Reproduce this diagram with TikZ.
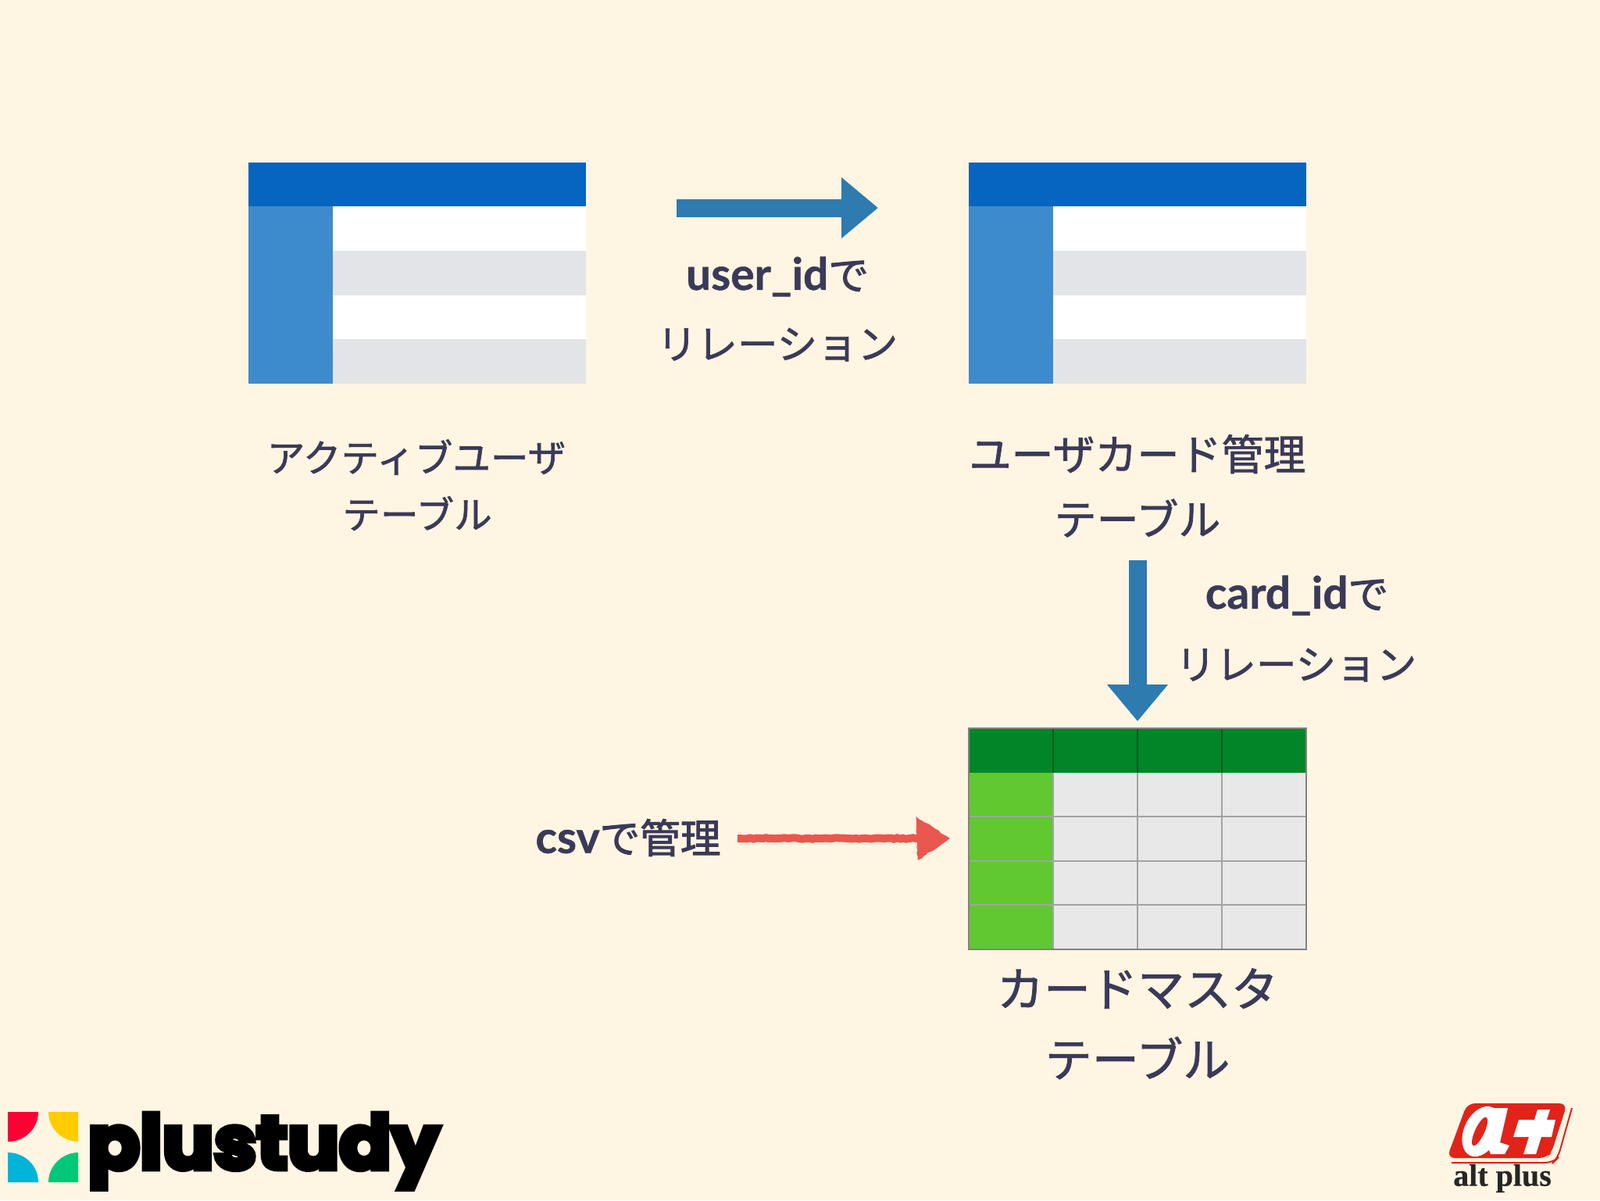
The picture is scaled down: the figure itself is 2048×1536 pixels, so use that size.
\documentclass[tikz,border=0pt]{standalone}
\usepackage{fontspec}
\usepackage{tikz}
\usetikzlibrary{arrows.meta,decorations.pathmorphing}
\setmainfont{Noto Sans CJK JP}[FakeBold=1.3]
\newfontfamily\boldjp{Noto Sans CJK JP}[FakeBold=2]
\newfontfamily\latfont{Lato}[FakeBold=0.8]
\newfontfamily\logofont{Poppins}[FakeBold=7]
\newfontfamily\altfont{Liberation Serif}[FakeBold=0.4]
\newcommand{\lat}[1]{{\latfont\bfseries\fontsize{28.5}{28.5}\selectfont #1}}
\definecolor{bgcream}{HTML}{FFF5E3}
\definecolor{headblue}{HTML}{0565BF}
\definecolor{sideblue}{HTML}{3D8BCD}
\definecolor{rowgray}{HTML}{E3E4E8}
\definecolor{headgreen}{HTML}{008528}
\definecolor{sidegreen}{HTML}{61C82F}
\definecolor{cellgray}{HTML}{E8E8E8}
\definecolor{gridgray}{HTML}{A3A3A3}
\definecolor{arrowblue}{HTML}{2E7BB0}
\definecolor{chalkred}{HTML}{E9574F}
\definecolor{inkblue}{HTML}{3A3A58}
\definecolor{altred}{HTML}{E2231A}
\definecolor{logored}{HTML}{FF0033}
\definecolor{logoyellow}{HTML}{FFCC00}
\definecolor{logoblue}{HTML}{00B4D8}
\definecolor{logogreen}{HTML}{00C878}
\tikzset{
    label24/.style={text=inkblue,font=\fontsize{24.3}{24.3}\selectfont,inner sep=0pt},
    label27/.style={text=inkblue,font=\fontsize{27}{27}\selectfont,inner sep=0pt},
    label30/.style={text=inkblue,font=\fontsize{30}{30}\selectfont,inner sep=0pt},
    relation/.style={text=inkblue,font=\fontsize{25.8}{25.8}\selectfont,inner sep=0pt},
    blockarrow/.style={draw=arrowblue,line width=11.5pt,-{Triangle[length=23.5pt,width=37.5pt]}},
    chalkarrow/.style={draw=chalkred,line width=5pt,decorate,decoration={random steps,segment length=2pt,amplitude=.4pt}},
    chalkhead/.style={fill=chalkred,draw=chalkred,line width=.5pt,decorate,decoration={random steps,segment length=2pt,amplitude=.5pt}}
}
\begin{document}
\begin{tikzpicture}[x=0.5pt,y=-0.5pt]
    \fill[bgcream] (0,0) rectangle (2048,1536);
    \useasboundingbox (0,0) rectangle (2048,1536);

    % blue tables
    \foreach \tx in {318,1240} {
        \fill[white] (\tx+108,264) rectangle (\tx+432,321);
        \fill[rowgray] (\tx+108,321) rectangle (\tx+432,378);
        \fill[white] (\tx+108,378) rectangle (\tx+432,434);
        \fill[rowgray] (\tx+108,434) rectangle (\tx+432,491);
        \fill[sideblue] (\tx,264) rectangle (\tx+108,491);
        \fill[headblue] (\tx,208) rectangle (\tx+432,264);
    }

    % green table
    \fill[cellgray] (1348,989) rectangle (1672,1215);
    \fill[sidegreen] (1240,989) rectangle (1348,1215);
    \fill[headgreen] (1240,932) rectangle (1672,989);
    \foreach \gy in {1045,1102,1158} {
        \draw[gridgray,line width=1pt] (1240,\gy) -- (1672,\gy);
    }
    \foreach \gx in {1348,1456,1564} {
        \draw[gridgray,line width=1pt] (\gx,989) -- (\gx,1215);
        \draw[black!35!headgreen,line width=1pt] (\gx,932) -- (\gx,989);
    }
    \draw[gridgray!80!black,line width=1pt] (1240,932) rectangle (1672,1215);

    % labels
    \node[label24] (active1) at (533,585) {アクティブユーザ};
    \node[label24] (active2) at (534,657) {テーブル};
    \node[label27] (usercard1) at (1456,581) {ユーザカード管理};
    \node[label27] (usercard2) at (1456,663) {テーブル};
    \node[label30] (master1) at (1456,1265) {カードマスタ};
    \node[label30] (master2) at (1456,1354) {テーブル};
    \node[relation] (userid1) at (995,354) {\lat{user\_id}{\boldjp で}};
    \node[relation] (userid2) at (995,441) {リレーション};
    \node[relation] (cardid1) at (1660,762) {\lat{card\_id}{\boldjp で}};
    \node[relation] (cardid2) at (1659,851) {リレーション};
    \node[relation] (csvlabel) at (804,1072) {\lat{csv}{\boldjp で管理}};

    % arrows
    \coordinate (userfrom) at (866,266);
    \coordinate (userto) at (1124,266);
    \coordinate (cardfrom) at (1456,717);
    \coordinate (cardto) at (1456,923);
    \coordinate (csvfrom) at (944,1073);
    \coordinate (csvto) at (1178,1073);
    \draw[blockarrow] (userfrom) -- (userto);
    \draw[blockarrow] (cardfrom) -- (cardto);
    \draw[chalkarrow] (csvfrom) -- (csvto);
    \path[chalkhead] (1173,1046) -- (1215,1073) -- (1175,1100) -- cycle;

    % plustudy logo
    \fill[logored] (10,1423) -- (49,1423) .. controls (49,1444) and (32,1461) .. (10,1461) -- cycle;
    \fill[logoyellow] (100,1423) -- (62,1423) .. controls (62,1444) and (80,1461) .. (100,1461) -- cycle;
    \fill[logoblue] (10,1513) -- (10,1475) .. controls (32,1475) and (49,1492) .. (49,1513) -- cycle;
    \fill[logogreen] (100,1513) -- (100,1475) .. controls (80,1475) and (62,1492) .. (62,1513) -- cycle;
    \node[inner sep=0pt,anchor=base west,xscale=1.02,font=\logofont\bfseries\fontsize{48}{48}\selectfont] (plustudy) at (112,1496) {plustudy};

    % alt plus logo
    \fill[altred,rounded corners=5pt] (1852,1482) -- (1878,1412) -- (2006,1412) -- (1986,1475) -- (1980,1482) -- cycle;
    \draw[altred,line width=1pt,rounded corners=5pt] (1858,1488) -- (1988,1488) -- (1994,1482) -- (2012,1418);
    \fill[white,rotate around={65:(1896,1448)}] (1896,1448) ellipse[x radius=34,y radius=22];
    \fill[altred,rotate around={65:(1894,1448)}] (1894,1448) ellipse[x radius=20,y radius=6];
    \fill[white] (1912,1418) -- (1930,1418) -- (1920,1462) -- (1932,1466) -- (1926,1477) -- (1908,1477) -- (1902,1462) -- cycle;
    \fill[white] (1968,1420) -- (1984,1420) -- (1966,1477) -- (1950,1477) -- cycle;
    \fill[white] (1944,1433) -- (1991,1433) -- (1986,1455) -- (1937,1455) -- cycle;
    \node[inner sep=0pt,text=black!85,font=\altfont\bfseries\fontsize{20}{20}\selectfont] (altplus) at (1923,1508) {alt plus};
\end{tikzpicture}
\end{document}
